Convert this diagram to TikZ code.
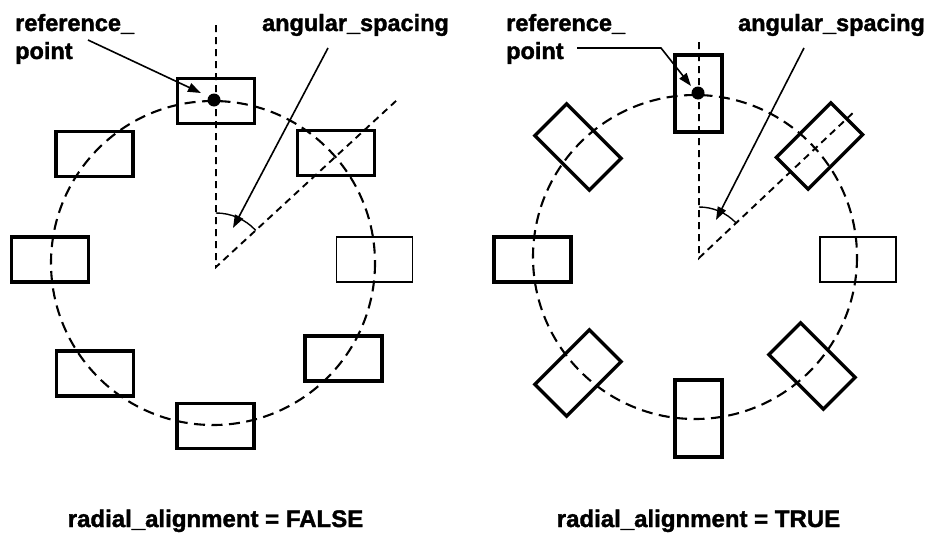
\documentclass[tikz,border=0pt]{standalone}
\usepackage{fontspec}
\setmainfont{Liberation Sans}[BoldFeatures={FakeBold=1.6}]
\usetikzlibrary{arrows.meta}
\tikzset{
  box/.style={draw, line width=3.4pt, minimum width=77pt, minimum height=45pt, inner sep=0pt},
  thinbox/.style={draw, line width=1.4pt, minimum width=76pt, minimum height=45pt, inner sep=0pt},
  vbox/.style={draw, line width=3.4pt, minimum width=47pt, minimum height=77pt, inner sep=0pt},
  circ/.style={line width=2.1pt, dash pattern=on 11pt off 6.5pt},
  guide/.style={line width=1.9pt, dash pattern=on 7pt off 5pt},
  pointer/.style={line width=1.6pt, -{Triangle[length=13pt,width=9pt]}},
  anglearc/.style={line width=1.4pt},
  lab/.style={inner sep=0pt, font=\fontsize{23.5}{26}\selectfont\bfseries},
  caption/.style={inner sep=0pt, font=\fontsize{24}{28}\selectfont\bfseries},
  refdot/.style={fill=black, circle, inner sep=0pt, minimum size=13pt}
}
\begin{document}
\begin{tikzpicture}[x=1pt,y=-1pt]
\useasboundingbox[fill=white] (0,0) rectangle (928,533);

% ================= LEFT: radial_alignment = FALSE =================
\coordinate (LC) at (213,263);
\coordinate (LO) at (216,267);
\coordinate (LV) at (216,25);
\coordinate (LR) at (397,100);
\draw[circ] (LC) circle[radius=162];
\draw[guide] (LV) -- (LO) -- (LR);
\draw[anglearc] (216,213) arc[start angle=-90, end angle=-42.7, radius=54];

\node[box] (L1) at (216,101) {};
\node[box] (L2) at (336,153) {};
\node[thinbox] (L3) at (374.5,259.5) {};
\node[box] (L4) at (343.5,358.5) {};
\node[box] (L5) at (215.5,426) {};
\node[box] (L6) at (95,373.5) {};
\node[box] (L7) at (50,259.5) {};
\node[box] (L8) at (94.5,154) {};
\node[refdot] (LD) at (214,100) {};

\node[lab, anchor=base west] (Lref) at (15,31) {reference\_};
\node[lab, anchor=base west] (Lpt) at (15,59) {point};
\node[lab, anchor=base] (Lang) at (355.5,31) {angular\_spacing};
\node[caption, anchor=base] (Lcap) at (215.5,527) {radial\_alignment = FALSE};

\coordinate (LrefS) at (88,40);
\coordinate (LrefE) at (201,93);
\coordinate (LangS) at (328,48);
\coordinate (LangE) at (233,228);
\draw[pointer] (LrefS) -- (LrefE);
\draw[pointer] (LangS) -- (LangE);

% ================= RIGHT: radial_alignment = TRUE =================
\coordinate (RC) at (695,257);
\coordinate (RO) at (699,258);
\coordinate (RV) at (699,42);
\coordinate (RR) at (856,110);
\draw[circ] (RC) circle[radius=162];
\draw[guide] (RV) -- (RO) -- (RR);
\draw[anglearc] (699,207) arc[start angle=-90, end angle=-43.3, radius=51];

\node[vbox] (R1) at (698.5,93.5) {};
\node[box, rotate=45] (R2) at (819.5,146) {};
\node[thinbox] (R3) at (858,259.5) {};
\node[box, rotate=-45] (R4) at (812,366) {};
\node[vbox] (R5) at (698.5,418.5) {};
\node[box, rotate=45] (R6) at (578,373) {};
\node[box] (R7) at (532.5,259.5) {};
\node[box, rotate=-45] (R8) at (578,147) {};
\node[refdot] (RD) at (698,93) {};

\node[lab, anchor=base west] (Rref) at (506,31) {reference\_};
\node[lab, anchor=base west] (Rpt) at (506,59) {point};
\node[lab, anchor=base] (Rang) at (831.5,31) {angular\_spacing};
\node[caption, anchor=base] (Rcap) at (698.5,527) {radial\_alignment = TRUE};

\coordinate (RrefS) at (577,48);
\coordinate (RrefK) at (661,48);
\coordinate (RrefE) at (691,86);
\coordinate (RangS) at (804,48);
\coordinate (RangE) at (716,220);
\draw[pointer] (RrefS) -- (RrefK) -- (RrefE);
\draw[pointer] (RangS) -- (RangE);
\end{tikzpicture}
\end{document}
